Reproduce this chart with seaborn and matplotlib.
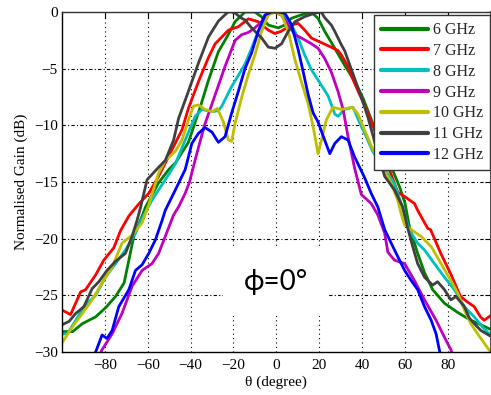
import numpy as np
import pandas as pd
import matplotlib
matplotlib.use("Agg")
import matplotlib.pyplot as plt
import seaborn as sns

# ---------------- data ----------------
labels = ["6 GHz", "7 GHz", "8 GHz", "9 GHz", "10 GHz", "11 GHz", "12 GHz"]
colors = ["#008000", "#FF0000", "#00BFBF", "#BF00BF", "#BFBF00", "#404040", "#0000FF"]

theta_6 = [-100, -95, -90.5, -84.3, -79.7, -75, -71, -68.8, -66.5, -62.8, -61, -55, -50.2, -47, -41,
           -35.5, -31.6, -27, -23, -19.2, -14.6, -10, -7, -3.7, 0.9, 4, 7, 11.6, 16.3, 19.5, 22.6,
           27.3, 31.9, 36.6, 40.5, 45, 50, 54, 57.5, 60, 62.2, 66, 69.2, 73, 78.5, 84.6, 90.8, 95.5, 100]
gain_6 = [-28.2, -28.2, -27.5, -26.9, -26.1, -25.1, -23.9, -21.9, -19.8, -18.1, -17.2, -15.1, -13.9, -13.3, -11.5,
          -8.4, -6.0, -3.5, -2.2, -0.85, 0, 0, -0.4, -1.15, -1.4, -1.15, -0.56, -0.26, 0, -0.56, -1.7,
          -3.2, -4.7, -6.1, -7.6, -9.8, -12.0, -13.8, -15.4, -16.8, -19.0, -21.3, -23.0, -24.5, -25.7, -26.5, -27.2, -27.6, -28.0]

theta_7 = [-100, -96, -91.3, -89, -84.3, -80.5, -75.8, -72.7, -68.8, -64, -59.5, -54.9, -48.8, -44, -41,
           -36, -31.6, -28.5, -22.3, -17.7, -13, -8.4, -3.7, -0.6, 2.3, 7, 10.2, 13.3, 16.4, 21, 25.6,
           28.8, 30.4, 33.5, 35, 38, 42.8, 47, 52, 56.7, 60, 64.5, 66, 70.7, 72, 76.8, 81.4, 86, 89.3,
           92.4, 95.3, 97, 100]
gain_7 = [-26.3, -26.7, -24.7, -24.5, -23.2, -21.9, -20.8, -19.3, -18.0, -16.9, -16.0, -14.5, -12.2, -10.4, -8.5,
          -6.0, -4.0, -2.8, -1.6, -1.3, -0.6, -0.86, -1.6, -1.9, -1.7, -1.15, -1.0, -1.6, -2.3, -2.7, -3.1,
          -3.4, -3.8, -4.8, -5.6, -6.9, -8.9, -11.0, -13.5, -15.9, -16.3, -16.9, -17.5, -19.1, -19.2, -21.3, -23.1, -25.1, -25.6,
          -26.0, -26.9, -27.2, -26.8]

theta_8 = [-100, -97.5, -93.6, -89.8, -84.3, -79.7, -75, -70.4, -65.7, -62.6, -58, -51.8, -47.1, -42.5, -37.8,
           -34.7, -30, -27, -25.4, -20.9, -17.7, -14.6, -11.5, -8.4, -5.3, -2.2, 2.5, 7.1, 10.2, 13.3, 16.4,
           19.5, 24.2, 27.3, 28.8, 31.9, 35.8, 39.7, 42, 45, 50, 55, 58.5, 62, 66, 69.2, 73.8, 78.5, 83.1,
           87.8, 92.4, 96.3, 100]
gain_8 = [-28.4, -28.4, -27.2, -26.0, -25.0, -23.4, -22.2, -21.0, -19.5, -18.2, -16.6, -14.8, -13.4, -11.3, -9.2,
          -8.6, -8.8, -8.7, -8.3, -6.6, -5.6, -4.6, -3.2, -1.7, -0.56, 0, -0.1, -1.15, -2.3, -3.8, -5.1,
          -6.0, -7.4, -9.0, -9.2, -8.6, -8.4, -10.1, -11.0, -12.3, -13.7, -15.1, -17.0, -19.2, -20.4, -21.0, -22.2, -23.4, -24.5,
          -26.0, -26.9, -27.8, -28.5]

theta_9 = [-82.5, -81.3, -76.6, -72, -67.3, -62.6, -58, -54.9, -51.8, -47.9, -45.6, -42.5, -40.5, -37.5, -33.5,
           -28.5, -23.9, -19.2, -16.1, -13, -10, -6.8, -3.7, -0.6, 2.5, 5.6, 8.7, 11.8, 16.4, 19.5, 22.6,
           25.7, 28.8, 31.2, 33.5, 36.6, 39.7, 44.3, 47.4, 50.6, 52.1, 55.2, 59.9, 64.5, 69.2, 74.6, 78.5,
           81.5, 82.5]
gain_9 = [-30.3, -29.8, -28.4, -26.6, -24.2, -22.8, -22.2, -21.3, -19.8, -17.9, -17.2, -16.0, -15.0, -12.8, -10.0,
          -7.3, -4.8, -2.5, -2.0, -1.8, -1.4, -0.85, -0.1, 0, -0.3, -1.15, -2.0, -2.3, -2.8, -3.2, -4.1,
          -5.3, -7.0, -8.6, -11.0, -13.8, -16.1, -16.9, -17.9, -19.5, -21.2, -21.9, -22.2, -23.7, -25.4, -27.2, -28.7,
          -29.8, -30.3]

theta_10 = [-100, -95.2, -90.5, -85.9, -81.3, -76.6, -72, -67.3, -62.6, -59.5, -54.9, -51.8, -47.1, -44, -40.9,
            -38.6, -36.3, -33.2, -30, -27.5, -24.7, -22.3, -20.8, -19.2, -16.1, -13, -10, -6.8, -3.7, -0.6, 2.5,
            5.6, 8.7, 11.8, 14.9, 17.2, 19.5, 21.1, 23.4, 26.5, 30.4, 35.5, 38.1, 41.2, 44.3, 49, 53.6,
            56.7, 58.3, 59.9, 63, 67.6, 72.3, 76.9, 81.5, 84.7, 87.8, 90.8, 94, 97, 100]
gain_10 = [-29.2, -27.8, -26.6, -25.4, -23.9, -22.5, -20.4, -19.7, -18.6, -17.0, -14.2, -13.1, -12.3, -11.3, -9.5,
           -8.3, -8.2, -8.6, -8.8, -8.5, -9.7, -11.3, -11.4, -9.8, -7.5, -5.5, -3.8, -1.7, -0.26, 0, -0.26,
           -1.7, -4.2, -6.2, -8.1, -10.1, -12.5, -11.3, -9.5, -8.4, -8.6, -8.4, -9.0, -10.4, -11.8, -13.5, -15.1,
           -16.6, -17.8, -18.8, -19.2, -19.8, -20.7, -22.2, -23.7, -24.8, -26.3, -27.5, -28.4, -29.2, -30.0]

theta_11 = [-100, -96.7, -93.6, -89.8, -85.9, -82.8, -79, -75, -70.4, -67.3, -65, -63.4, -60.3, -54.9, -51.8,
            -47.9, -45.6, -41, -36.3, -31.6, -27, -22.5, -20.8, -19.2, -16.1, -14.6, -11.5, -6.8, -3.7, -0.6, 2.5,
            5.6, 8.7, 13.3, 18, 21, 22.6, 25.7, 27.3, 30.4, 31.9, 35.5, 39.7, 42.8, 46, 50.6, 55.2, 59,
            61.4, 63.7, 66, 69.2, 73, 75.3, 78.5, 81.5, 83.9, 87.8, 90.1, 92.4, 95.5, 100]
gain_11 = [-27.6, -27.3, -26.6, -26.0, -24.4, -23.8, -22.8, -22.0, -21.3, -19.8, -18.4, -17.3, -14.8, -13.7, -13.1,
           -11.3, -9.4, -7.0, -4.5, -2.2, -0.8, 0, 0, -0.1, -0.56, -0.7, -1.4, -2.3, -3.1, -3.2, -2.8,
           -1.7, -0.86, -0.41, -0.1, 0, -0.5, -1.15, -1.7, -2.9, -3.4, -5.3, -7.5, -9.3, -11.5, -14.5, -15.7, -17.2,
           -19.1, -20.7, -22.2, -23.4, -24.1, -23.8, -24.5, -25.4, -25.1, -26.0, -27.0, -27.5, -28.1, -28.6]

theta_12 = [-85, -84.3, -81.3, -79, -76.6, -73.5, -68.8, -65.7, -62.6, -59.5, -56.4, -53.3, -51.8, -47.1, -42.5,
            -39.4, -36.3, -33.2, -30, -27, -23.9, -20.8, -17.7, -14.6, -11.5, -8.4, -5.3, -2.2, 0.9, 4, 7.1,
            10.2, 12.6, 14.9, 17.2, 19.5, 22.6, 25, 27.3, 30.4, 33.5, 36.6, 41.2, 44.3, 47.4, 50.6, 55.2,
            59.9, 63, 66, 69.2, 72.3, 74.6, 76.1, 77]
gain_12 = [-30.3, -30.0, -28.5, -28.8, -28.1, -26.0, -24.5, -22.8, -22.3, -21.3, -20.1, -18.4, -17.5, -15.7, -13.9,
           -11.6, -10.7, -10.2, -10.6, -11.5, -11.0, -8.9, -7.0, -5.0, -3.6, -1.7, -0.26, 0, 0, -0.1, -1.1,
           -3.3, -5.3, -7.3, -8.9, -9.7, -11.3, -12.5, -11.6, -11.0, -11.3, -12.8, -14.6, -16.0, -17.2, -19.2, -21.0,
           -22.8, -23.7, -24.5, -26.0, -27.2, -28.4, -29.8, -30.5]

x_ticks = [-80, -60, -40, -20, 0, 20, 40, 60, 80]
y_ticks = [-30, -25, -20, -15, -10, -5, 0]

thetas = [theta_6, theta_7, theta_8, theta_9, theta_10, theta_11, theta_12]
gains = [gain_6, gain_7, gain_8, gain_9, gain_10, gain_11, gain_12]

frames = []
for lab, th, g in zip(labels, thetas, gains):
    frames.append(pd.DataFrame({"theta": th, "gain": g, "freq": lab}))
df = pd.concat(frames, ignore_index=True)

# ---------------- figure ----------------
sns.set_theme(style="white")
plt.rcParams["font.family"] = ["Liberation Serif", "DejaVu Serif"]
plt.rcParams["axes.unicode_minus"] = True

fig = plt.figure(figsize=(4.91, 3.95), dpi=100)
ax = fig.add_axes([62 / 491, 1 - 352 / 395, 1 - 62 / 491 - 0.001, 340 / 395])

ax.set_axisbelow(True)
ax.grid(False)
for xv in x_ticks:
    ax.axvline(xv, color="black", lw=0.8, ls=(0, (1, 3)), zorder=0.5)
for yv in y_ticks[1:-1]:
    ax.axhline(yv, color="black", lw=0.8, ls=(0, (3, 2, 1, 2)), zorder=0.5)

sns.lineplot(data=df, x="theta", y="gain", hue="freq", hue_order=labels,
             palette=dict(zip(labels, colors)), estimator=None, sort=True,
             linewidth=2.0, ax=ax, zorder=2)

ax.set_xlim(-100, 100)
ax.set_ylim(-30, 0)
ax.set_xticks(x_ticks)
ax.set_yticks(y_ticks)
ax.tick_params(axis="both", direction="in", length=4, width=0.8, labelsize=11,
               colors="black", top=True, right=True)
ax.tick_params(axis="x", pad=5)
ax.tick_params(axis="y", pad=3)

for side in ["left", "bottom"]:
    ax.spines[side].set_color("black")
    ax.spines[side].set_linewidth(1.0)
ax.spines["top"].set_color("#333333")
ax.spines["top"].set_linewidth(1.0)
ax.spines["right"].set_color("#333333")

ax.set_xlabel("θ (degree)", fontsize=11, color="black")
ax.set_ylabel("Normalised Gain (dB)", fontsize=11, color="black")
ax.xaxis.set_label_coords(0.5, -0.07)
ax.yaxis.set_label_coords(-0.079, 0.5)

ax.text(0, -23.8, "ϕ=0°", fontsize=20, ha="center", va="center",
        family=["Lato", "DejaVu Sans"], color="black", zorder=1,
        bbox=dict(boxstyle="square,pad=0.75", facecolor="white", edgecolor="none"))

leg = ax.legend(loc="upper right", bbox_to_anchor=(490 / 491, 1 - 15 / 395),
                bbox_transform=fig.transFigure, borderaxespad=0, fontsize=11.5,
                handlelength=2.9, handletextpad=0.3, labelspacing=0.3,
                borderpad=0.45, fancybox=False, framealpha=1, title=None)
leg.get_frame().set_edgecolor("#333333")
leg.get_frame().set_linewidth(1.0)
for line in leg.get_lines():
    line.set_linewidth(3.0)

fig.savefig("out.png", dpi=100)
